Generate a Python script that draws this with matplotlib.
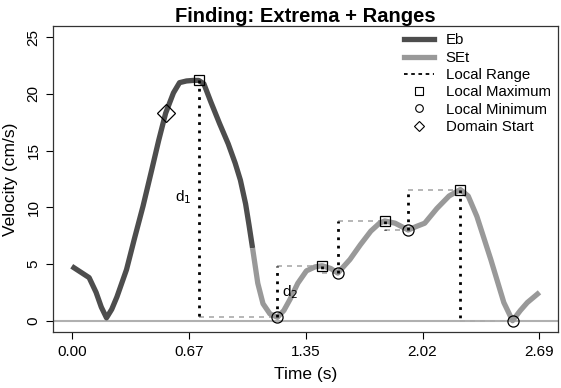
import matplotlib.pyplot as plt
from matplotlib.lines import Line2D

plt.rcParams['font.family'] = ['Liberation Sans', 'DejaVu Sans']

# Eb segment (dark) of the velocity trace
t_eb = [0.00, 0.05, 0.10, 0.14, 0.17, 0.20, 0.23, 0.26, 0.315, 0.36, 0.41, 0.46,
        0.50, 0.54, 0.585, 0.62, 0.66, 0.70, 0.73, 0.76, 0.80, 0.85, 0.90, 0.94,
        0.97, 1.00, 1.02, 1.04]
v_eb = [4.8, 4.3, 3.8, 2.5, 1.2, 0.25, 1.0, 2.1, 4.5, 7.2, 10.1, 13.3,
        15.9, 18.3, 20.1, 21.0, 21.15, 21.2, 21.2, 20.9, 19.3, 17.4, 15.6, 13.9,
        12.4, 10.3, 8.4, 6.4]

# SEt segment (light)
t_set = [1.04, 1.07, 1.10, 1.14, 1.183, 1.22, 1.256, 1.30, 1.35, 1.40, 1.44, 1.49,
         1.53, 1.60, 1.66, 1.72, 1.77, 1.80, 1.86, 1.935, 1.98, 2.03, 2.10, 2.17,
         2.235, 2.28, 2.33, 2.41, 2.485, 2.535, 2.58, 2.62, 2.69]
v_set = [6.4, 3.3, 1.5, 0.6, 0.3, 0.9, 1.9, 3.3, 4.4, 4.75, 4.85, 4.6,
         4.2, 5.4, 6.7, 7.9, 8.6, 8.8, 8.6, 8.0, 8.3, 8.6, 9.9, 11.0,
         11.57, 11.0, 9.2, 5.4, 1.6, 0.0, 0.9, 1.6, 2.5]

max_t = [0.73, 1.44, 1.80, 2.235]
max_v = [21.2, 4.85, 8.8, 11.57]
min_t = [1.183, 1.53, 1.935, 2.535]
min_v = [0.3, 4.2, 8.0, 0.0]

start_t = [0.54]
start_v = [18.35]

xtick_pos = [0.0, 0.6725, 1.345, 2.0175, 2.69]
xtick_lab = ["0.00", "0.67", "1.35", "2.02", "2.69"]
ytick_pos = [0, 5, 10, 15, 20, 25]

dark = "#4d4d4d"
light = "#999999"

fig = plt.figure(figsize=(5.61, 3.88), dpi=100)
ax = fig.add_axes([0.0945, 0.1443, 0.9005, 0.7887])

ax.axhline(0, color="#b0b0b0", lw=1.5, zorder=1)

# local ranges: vertical from one extremum to the level of the next, then across
ext = sorted(list(zip(max_t, max_v)) + list(zip(min_t, min_v)))
for i in range(len(ext) - 1):
    t0, v0 = ext[i]
    t1, v1 = ext[i + 1]
    ax.plot([t0, t1], [v1, v1], color="#aaaaaa", lw=1.2, ls=(0, (3, 3)), zorder=2)
    ax.plot([t0, t0], [v0, v1], color="black", lw=2, ls=(0, (1, 2)), zorder=5)

ax.plot(t_eb, v_eb, color=dark, lw=3.8, solid_capstyle="butt", solid_joinstyle="round", zorder=3)
ax.plot(t_set, v_set, color=light, lw=3.8, solid_capstyle="butt", solid_joinstyle="round", zorder=3)

ax.plot(max_t, max_v, ls="none", marker="s", ms=7.5, mfc="none", mec="black", mew=0.9, zorder=6)
ax.plot(min_t, min_v, ls="none", marker="o", ms=8, mfc="none", mec="black", mew=0.9, zorder=6)
ax.plot(start_t, start_v, ls="none", marker="D", ms=9.5, mfc="none", mec="black", mew=0.9, zorder=6)

ax.text(0.64, 10.9, "d$_1$", fontsize=11, ha="center", va="center")
ax.text(1.255, 2.5, "d$_2$", fontsize=11, ha="center", va="center")

ax.set_xlim(-0.1076, 2.7976)
ax.set_ylim(-1, 26)
ax.set_xticks(xtick_pos)
ax.set_xticklabels(xtick_lab)
ax.set_yticks(ytick_pos)
ax.set_yticklabels([str(v) for v in ytick_pos], rotation=90, va="center")
ax.tick_params(direction="out", length=5, width=0.8, labelsize=11, colors="black", pad=4)
for s in ax.spines.values():
    s.set_color("#333333")
    s.set_linewidth(0.9)

ax.set_xlabel("Time (s)", fontsize=12.5, labelpad=6)
ax.set_ylabel("Velocity (cm/s)", fontsize=12.5, labelpad=6)
ax.set_title("Finding: Extrema + Ranges", fontsize=14.5, fontweight="bold", pad=3)

handles = [
    Line2D([], [], color=dark, lw=3.8),
    Line2D([], [], color=light, lw=3.8),
    Line2D([], [], color="black", lw=1.3, ls=(0, (2, 2))),
    Line2D([], [], ls="none", marker="s", ms=5.5, mfc="none", mec="black", mew=0.8),
    Line2D([], [], ls="none", marker="o", ms=5.5, mfc="none", mec="black", mew=0.8),
    Line2D([], [], ls="none", marker="D", ms=5.5, mfc="none", mec="black", mew=0.8),
]
labels = ["Eb", "SEt", "Local Range", "Local Maximum", "Local Minimum", "Domain Start"]
ax.legend(handles, labels, loc="upper right", frameon=False, fontsize=10.8,
          handlelength=2.0, labelspacing=0.22, borderaxespad=0.2, handletextpad=0.8,
          borderpad=0.3)

fig.savefig("out.png", dpi=100)
